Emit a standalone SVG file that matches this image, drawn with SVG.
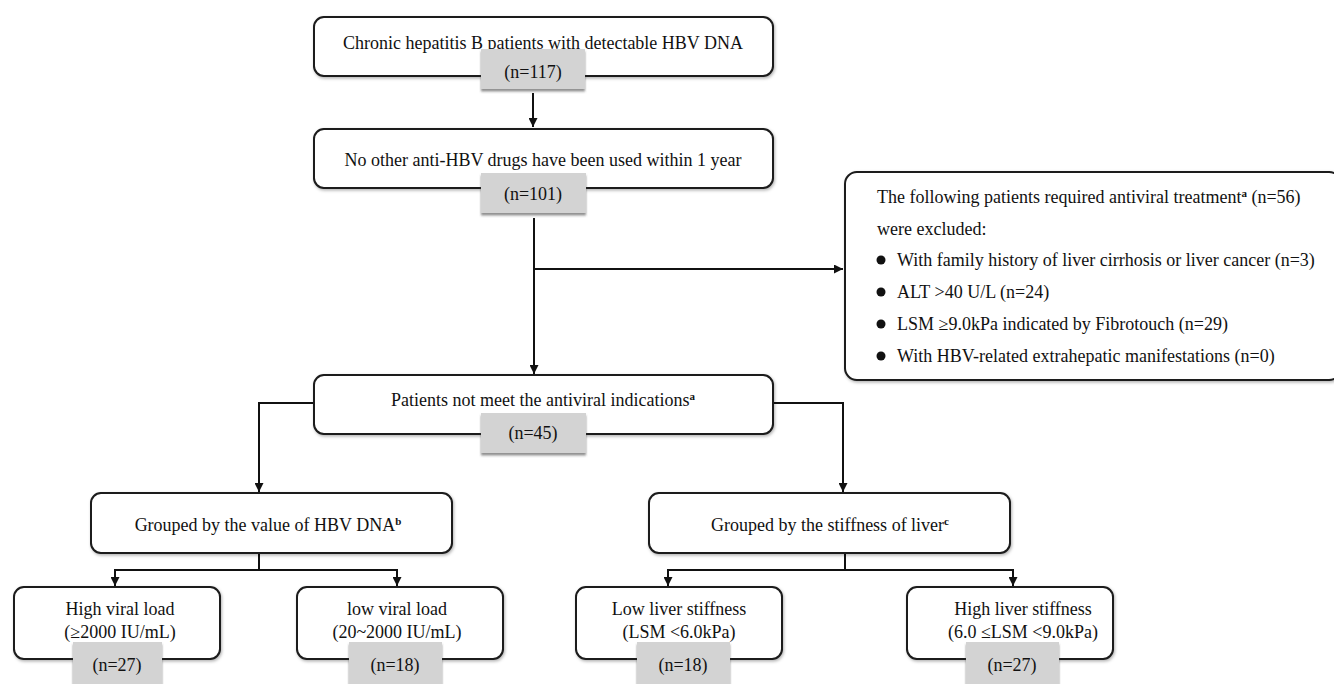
<svg xmlns="http://www.w3.org/2000/svg" width="1334" height="684" viewBox="0 0 1334 684">
<defs>
<style>
.box{fill:#fff;stroke:#1a1a1a;stroke-width:2;filter:url(#soft)}
.gray{fill:#d3d3d3;stroke:none;filter:url(#gsh)}
.t{font-family:"Liberation Serif","Times New Roman",serif;font-size:18px;fill:#111}
.c{text-anchor:middle}
.sup{font-size:11px;font-weight:bold}
.conn{fill:none;stroke:#111;stroke-width:2}
</style>
<filter id="soft" x="-5%" y="-10%" width="110%" height="130%">
<feDropShadow dx="1" dy="1.5" stdDeviation="1.5" flood-color="#000" flood-opacity="0.3"/>
</filter>
<filter id="gsh" x="-5%" y="-10%" width="110%" height="130%">
<feDropShadow dx="0" dy="2.5" stdDeviation="1.2" flood-color="#444" flood-opacity="0.6"/>
</filter>
<marker id="arr" viewBox="0 0 10 10" refX="10" refY="5" markerWidth="9" markerHeight="9" markerUnits="userSpaceOnUse" orient="auto">
<path d="M0,0 L10,5 L0,10 z" fill="#111"/>
</marker>
</defs>
<rect width="1334" height="684" fill="#fff"/>

<g id="connectors">
<path class="conn" d="M533,93 L533,127" marker-end="url(#arr)"/>
<path class="conn" d="M534,218 L534,374" marker-end="url(#arr)"/>
<path class="conn" d="M534,269 L843,269" marker-end="url(#arr)"/>
<path class="conn" d="M314,403 L259,403 L259,492" marker-end="url(#arr)"/>
<path class="conn" d="M773,403 L843,403 L843,492" marker-end="url(#arr)"/>
<path class="conn" d="M259,553 L259,570"/>
<path class="conn" d="M115,570 L397,570"/>
<path class="conn" d="M115,569 L115,586" marker-end="url(#arr)"/>
<path class="conn" d="M397,569 L397,586" marker-end="url(#arr)"/>
<path class="conn" d="M845,553 L845,570"/>
<path class="conn" d="M668,570 L1013,570"/>
<path class="conn" d="M668,569 L668,586" marker-end="url(#arr)"/>
<path class="conn" d="M1013,569 L1013,586" marker-end="url(#arr)"/>
</g>

<g id="n1">
<rect class="box" x="314" y="17" width="459" height="59" rx="10"/>
<text class="t c" x="543" y="49">Chronic hepatitis B patients with detectable HBV DNA</text>
<rect class="gray" x="481" y="49" width="104" height="40"/>
<text class="t c" x="533" y="78">(n=117)</text>
</g>

<g id="n2">
<rect class="box" x="314" y="129" width="459" height="59" rx="10"/>
<text class="t c" x="543" y="166">No other anti-HBV drugs have been used within 1 year</text>
<rect class="gray" x="481" y="173" width="105" height="40"/>
<text class="t c" x="533" y="200">(n=101)</text>
</g>

<g id="n-excluded">
<rect class="box" x="845" y="172" width="496" height="208" rx="12"/>
<text class="t" x="877" y="203">The following patients required antiviral treatment<tspan class="sup" dy="-6">a</tspan><tspan dy="6"> (n=56)</tspan></text>
<text class="t" x="877" y="235">were excluded:</text>
<circle cx="881" cy="260" r="4.5" fill="#111"/>
<text class="t" x="897" y="266">With family history of liver cirrhosis or liver cancer (n=3)</text>
<circle cx="881" cy="292" r="4.5" fill="#111"/>
<text class="t" x="897" y="298">ALT &gt;40 U/L (n=24)</text>
<circle cx="881" cy="324" r="4.5" fill="#111"/>
<text class="t" x="897" y="330">LSM ≥9.0kPa indicated by Fibrotouch (n=29)</text>
<circle cx="881" cy="356" r="4.5" fill="#111"/>
<text class="t" x="897" y="362">With HBV-related extrahepatic manifestations (n=0)</text>
</g>

<g id="n3">
<rect class="box" x="314" y="375" width="459" height="59" rx="10"/>
<text class="t c" x="543" y="406">Patients not meet the antiviral indications<tspan class="sup" dy="-6">a</tspan></text>
<rect class="gray" x="481" y="413" width="105" height="40"/>
<text class="t c" x="533" y="439">(n=45)</text>
</g>

<g id="n4">
<rect class="box" x="91" y="493" width="361" height="60" rx="10"/>
<text class="t c" x="268" y="531">Grouped by the value of HBV DNA<tspan class="sup" dy="-6">b</tspan></text>
</g>

<g id="n5">
<rect class="box" x="649" y="493" width="361" height="60" rx="10"/>
<text class="t c" x="830" y="531">Grouped by the stiffness of liver<tspan class="sup" dy="-6">c</tspan></text>
</g>

<g id="n6">
<rect class="box" x="14" y="587" width="206" height="72" rx="10"/>
<text class="t c" x="120" y="615">High viral load</text>
<text class="t c" x="120" y="638">(≥2000 IU/mL)</text>
<rect class="gray" x="73" y="642" width="89" height="50"/>
<text class="t c" x="117" y="671">(n=27)</text>
</g>

<g id="n7">
<rect class="box" x="297" y="587" width="206" height="72" rx="10"/>
<text class="t c" x="397" y="615">low viral load</text>
<text class="t c" x="397" y="638">(20~2000 IU/mL)</text>
<rect class="gray" x="349" y="642" width="93" height="50"/>
<text class="t c" x="395" y="671">(n=18)</text>
</g>

<g id="n8">
<rect class="box" x="576" y="587" width="206" height="72" rx="10"/>
<text class="t c" x="679" y="615">Low liver stiffness</text>
<text class="t c" x="679" y="638">(LSM &lt;6.0kPa)</text>
<rect class="gray" x="637" y="642" width="93" height="50"/>
<text class="t c" x="683" y="671">(n=18)</text>
</g>

<g id="n9">
<rect class="box" x="907" y="587" width="206" height="72" rx="10"/>
<text class="t c" x="1023" y="615">High liver stiffness</text>
<text class="t c" x="1023" y="638">(6.0 ≤LSM &lt;9.0kPa)</text>
<rect class="gray" x="966" y="642" width="93" height="50"/>
<text class="t c" x="1012" y="671">(n=27)</text>
</g>
</svg>
